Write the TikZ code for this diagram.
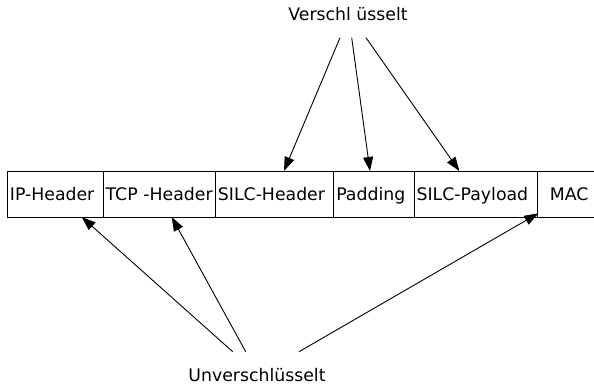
\documentclass[tikz,border=0pt]{standalone}
\usepackage{fontspec}
\setmainfont{DejaVu Sans}
\usetikzlibrary{arrows.meta}
\begin{document}
\begin{tikzpicture}[x=1pt,y=-1pt,
  every node/.style={font=\fontsize{17.3}{20}\selectfont},
  cell/.style={draw, line width=0.9pt, anchor=north west, minimum height=46pt,
    inner xsep=2.5pt, inner ysep=0pt, align=left, text height=12.5pt, text depth=0pt},
  lbl/.style={anchor=base, inner sep=0pt},
  conn/.style={line width=0.9pt, -{Triangle[length=14pt,width=10pt]}}]
\useasboundingbox (0,0) rectangle (594,385);
% cells
\node[cell, text width=90.7pt] (ip)  at (7,171)     {IP-Header};
\node[cell, text width=107.3pt] (tcp) at (102.7,171) {TCP -Header};
\node[cell, text width=113.3pt] (sh)  at (215,171)   {SILC-Header};
\node[cell, text width=75.4pt] (pad) at (333.3,171) {Padding};
\node[cell, text width=118.6pt] (sp)  at (413.7,171) {SILC-Payload};
\node[cell, text width=57.7pt, align=center] (mac) at (537.3,171) {MAC};
% labels
\node[lbl] (enc) at (348,20.7) {Verschl üsselt};
\node[lbl] (unenc) at (257,381.7) {Unverschlüsselt};
% connector ends
\coordinate (v1) at (340,37.7);
\coordinate (v2) at (351.7,37.7);
\coordinate (v3) at (366,37.7);
\coordinate (t1) at (284,171);
\coordinate (t2) at (370,171);
\coordinate (t3) at (459.3,171);
\coordinate (u1) at (232.7,351.7);
\coordinate (u2) at (245.7,351.7);
\coordinate (u3) at (299,351.7);
\coordinate (b1) at (81.7,217);
\coordinate (b2) at (171.7,217);
\coordinate (b3) at (538.3,213.3);
\draw[conn] (v1) -- (t1);
\draw[conn] (v2) -- (t2);
\draw[conn] (v3) -- (t3);
\draw[conn] (u1) -- (b1);
\draw[conn] (u2) -- (b2);
\draw[conn] (u3) -- (b3);
\end{tikzpicture}
\end{document}
